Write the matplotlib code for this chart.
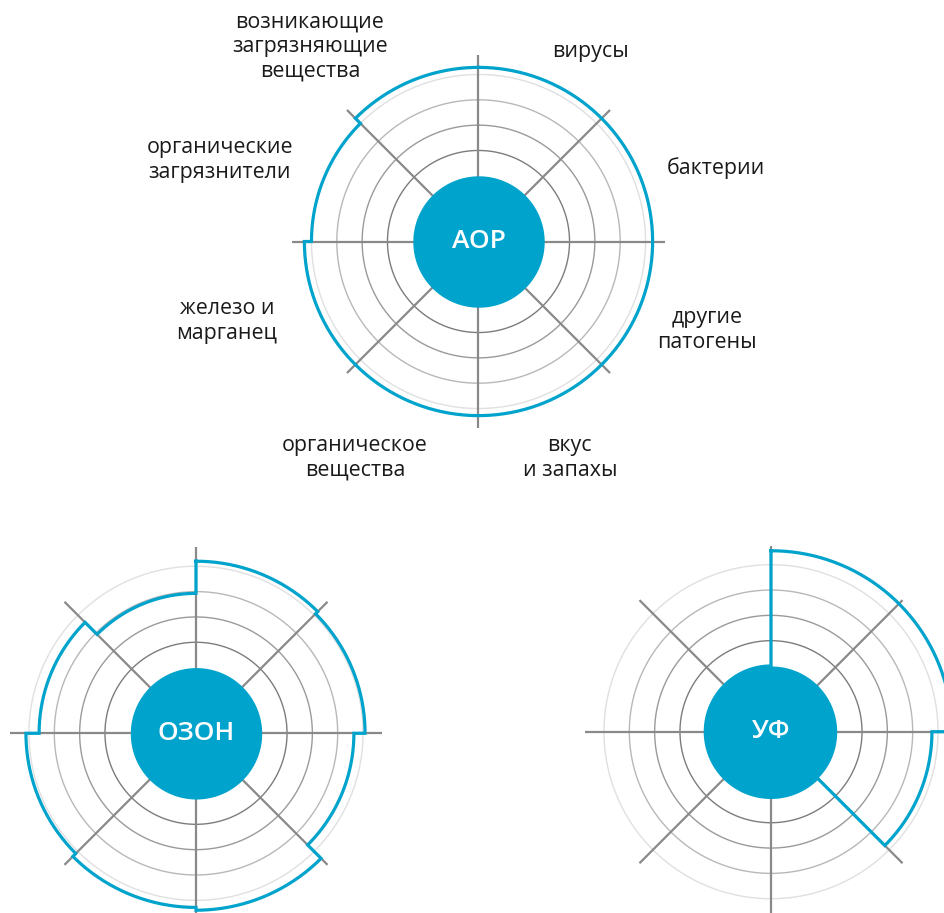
import numpy as np
import matplotlib.pyplot as plt

plt.rcParams['font.family'] = ['Open Sans', 'DejaVu Sans']

# sectors, clockwise from the top
categories = ['вирусы', 'бактерии', 'другие\nпатогены', 'вкус\nи запахы',
              'органическое\nвещества', 'железо и\nмарганец',
              'органические\nзагрязнители',
              'возникающие\nзагрязняющие\nвещества']

# effectiveness per sector, 0 = core edge, rings at 1..4
aop_values = [4.28, 4.28, 4.28, 4.28, 4.28, 4.28, 4.0, 4.28]
ozone_values = [4.2, 4.08, 3.64, 4.39, 4.28, 4.12, 3.6, 2.93]
uv_values = [4.55, 4.55, 3.76, 0, 0, 0, 0, 0]

methods = ['AOP', 'ОЗОН', 'УФ']

BLUE = '#00a3cc'
RING_COLORS = ['#7c7c7c', '#9a9a9a', '#b8b8b8', '#e0e0e0']
SPOKE_LEN = 4.75
R_IN = -2.594       # radial value at the very centre
R_MAX = 5.2
PX_PER_UNIT = 25.33

# label placement around the top chart: (angle deg clockwise from top, radius)
label_pos = [(30.5, 6.09), (72.8, 7.22), (111.2, 7.08), (157.1, 6.68),
             (209.7, 7.24), (252.5, 7.82), (287.5, 8.11), (319.2, 7.59)]

W, H = 945, 913
fig = plt.figure(figsize=(W / 100, H / 100), dpi=100)


def make_axes(cx, cy):
    rad = (R_MAX - R_IN) * PX_PER_UNIT
    w, h = 2 * rad / W, 2 * rad / H
    ax = fig.add_axes([cx / W - w / 2, 1 - cy / H - h / 2, w, h],
                      projection='polar')
    ax.set_theta_zero_location('N')
    ax.set_theta_direction(-1)
    ax.set_ylim(R_IN, R_MAX)
    ax.axis('off')
    return ax


def draw_chart(ax, values, name):
    n = len(values)
    full = np.linspace(0, 2 * np.pi, 400)
    for k, c in enumerate(RING_COLORS, start=1):
        ax.plot(full, np.full_like(full, k), color=c, lw=1.0, zorder=1)

    for a in np.arange(n) * 2 * np.pi / n:
        ax.plot([a, a], [R_IN, SPOKE_LEN], color='#898989', lw=1.6,
                zorder=2, solid_capstyle='butt')

    th, rr = [], []
    step = 2 * np.pi / n
    for i, v in enumerate(values):
        t = np.linspace(i * step, (i + 1) * step, 60)
        th.extend(t)
        rr.extend([v] * len(t))
    th.append(th[0])
    rr.append(rr[0])
    ax.plot(th, rr, color=BLUE, lw=2.3, zorder=3, solid_joinstyle='miter')

    ax.fill_between(full, R_IN, 0, color=BLUE, lw=0, zorder=4)
    ax.text(0, R_IN, name, ha='center', va='center', color='white',
            fontsize=19, fontweight='semibold', zorder=5)


ax_aop = make_axes(478.5, 241.5)
draw_chart(ax_aop, aop_values, methods[0])
for lab, (ang, r) in zip(categories, label_pos):
    ax_aop.text(np.deg2rad(ang), r, lab, ha='center', va='center',
                fontsize=15.4, color='#1a1a1a', linespacing=1.22)

ax_oz = make_axes(196, 733.3)
draw_chart(ax_oz, ozone_values, methods[1])

ax_uv = make_axes(771, 731.7)
draw_chart(ax_uv, uv_values, methods[2])

fig.savefig('out.png', dpi=100)
